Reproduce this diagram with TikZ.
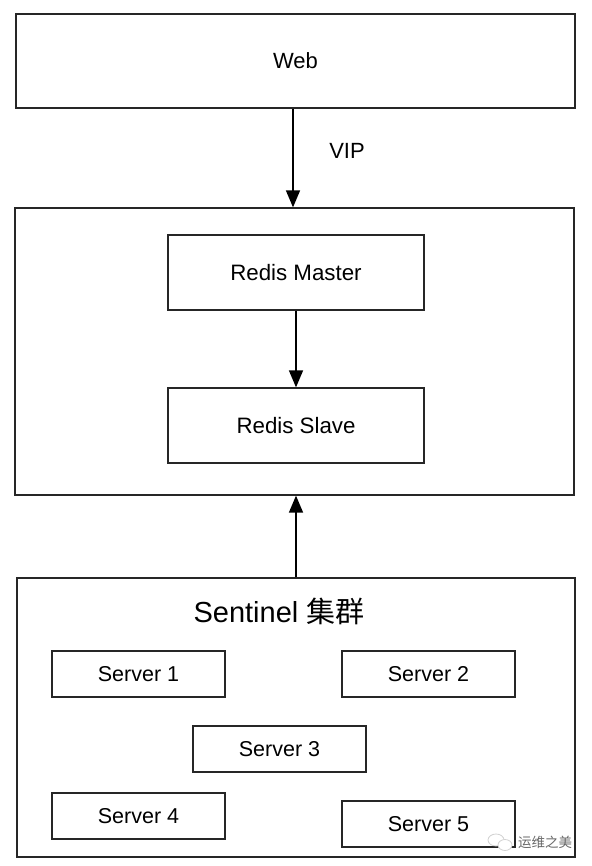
\documentclass[tikz,border=0pt]{standalone}
\usepackage{fontspec}
\setmainfont{Liberation Sans}
\newfontfamily\cjk{Noto Sans CJK SC}
\usetikzlibrary{arrows.meta}
\begin{document}
\begin{tikzpicture}[x=1pt,y=-1pt,
  boxstyle/.style={draw=black!85, line width=1.3pt, fill=white, inner sep=0pt, anchor=center},
  bigbox/.style={boxstyle},
  srvbox/.style={boxstyle, minimum width=173pt, minimum height=46pt, font=\fontsize{21.5}{24}\selectfont},
  arr/.style={line width=1.5pt, -{Triangle[width=14pt,length=17pt]}},
  lbl/.style={font=\fontsize{22}{26}\selectfont, inner sep=0pt}]
\fill[white] (0,0) rectangle (591,866);
\useasboundingbox (0,0) rectangle (591,866);

% top web box
\node[bigbox, minimum width=559pt, minimum height=94pt, font=\fontsize{22}{25}\selectfont] (web) at (295.5,61) {Web};

% redis cluster box
\node[bigbox, minimum width=559pt, minimum height=287pt] (cluster) at (294.5,351.5) {};
\node[boxstyle, minimum width=256pt, minimum height=75pt, font=\fontsize{22.3}{25}\selectfont] (master) at (296,272.5) {Redis Master};
\node[boxstyle, minimum width=256pt, minimum height=75pt, font=\fontsize{22.3}{25}\selectfont] (slave) at (296,425.5) {Redis Slave};

% sentinel box
\node[bigbox, minimum width=558pt, minimum height=279pt] (sentinel) at (296,717.5) {};
\node[lbl, font=\fontsize{29}{33}\selectfont] (stitle) at (279,611) {Sentinel {\cjk 集群}};

\node[srvbox] (s1) at (138.5,674) {Server 1};
\node[srvbox] (s2) at (428.5,674) {Server 2};
\node[srvbox] (s3) at (279.5,749) {Server 3};
\node[srvbox] (s4) at (138.5,816) {Server 4};
\node[srvbox] (s5) at (428.5,824) {Server 5};

% connectors
\draw[arr] ([xshift=-2.5pt]web.south) -- ([xshift=-2.5pt]web.south |- cluster.north);
\node[lbl] (vip) at (347,151) {VIP};
\draw[arr] (master.south) -- (slave.north);
\draw[arr] (sentinel.north) -- (sentinel.north |- cluster.south);

% watermark
\node[inner sep=0pt] (wmicon) at (500,842) {};
\draw[gray!35, line width=0.8pt] (496,840) ellipse (8pt and 6pt);
\draw[gray!35, line width=0.8pt, fill=white] (505,845) ellipse (7pt and 5.5pt);
\node[inner sep=0pt, text=black!60, font=\cjk\fontsize{13.5}{15}\selectfont] (wm) at (545,842) {运维之美};
\end{tikzpicture}
\end{document}
